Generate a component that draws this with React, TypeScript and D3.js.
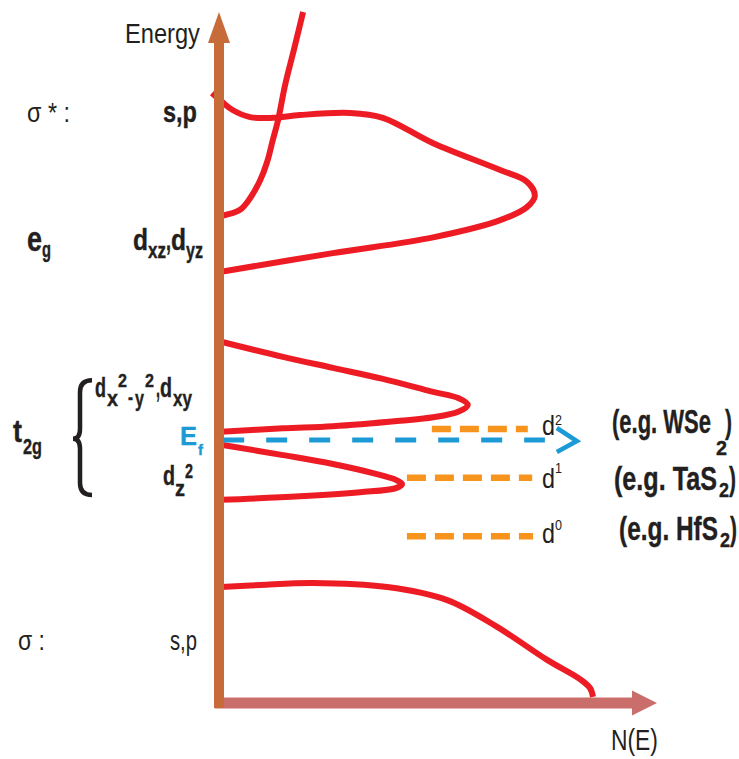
import React, { useLayoutEffect, useRef } from 'react';
import * as d3 from 'd3';

const W = 739;
const H = 759;
const INK = '#231F20';
const RED = '#ED1C24';
const BLUE = '#1B9AD6';
const ORANGE = '#F7941D';

// density of states, points are [N(E), E] in arbitrary units (0..100)
const sigmaBand = [[0.5, 16.3], [9.4, 16.6], [21.5, 16.9], [38.4, 16.3], [52.1, 14.4], [63.5, 10.5], [74.9, 5.7], [82.4, 2.9], [84.7, 1.6], [85.4, 0.3]];
const dz2Band = [[0.5, 37.0], [14.6, 35.5], [26.0, 34.2], [35.6, 32.8], [40.4, 31.9], [41.8, 31.3], [40.4, 30.7], [32.2, 30.1], [18.5, 29.5], [0.5, 29.0]];
const t2gBand = [[0.5, 52.0], [14.6, 49.8], [26.0, 48.2], [37.4, 46.6], [48.9, 44.7], [54.6, 43.8], [56.8, 42.8], [54.6, 41.8], [48.9, 41.0], [41.3, 40.5], [26.0, 39.7], [14.6, 39.4], [0.5, 38.9]];
const egBand = [[0.5, 62.2], [26.0, 64.9], [48.9, 67.2], [64.2, 69.7], [70.3, 71.6], [72.1, 73.2], [70.3, 75.3], [64.2, 77.0], [48.9, 80.9], [37.4, 84.6], [29.9, 85.3], [18.5, 85.0], [12.3, 84.6], [7.1, 84.7], [3.2, 85.7], [0.9, 86.8], [-1.6, 88.2]];
const sigmaStarBand = [[0.5, 70.3], [4.8, 71.2], [7.1, 72.9], [9.4, 75.5], [11.0, 78.2], [12.3, 81.4], [13.5, 84.3], [15.1, 89.4], [17.1, 94.5], [19.2, 100]];
const bands = [sigmaBand, dz2Band, t2gBand, egBand, sigmaStarBand];

// Fermi level
const fermiE = 37.7;
const fermiN = [0.5, 74.4];
const fermiArrowTip = 81.7;

// d-electron filling levels
const levelSup = ['2', '1', '0'];
const levelE = [39.3, 32.2, 23.7];
const levelStart = [48.6, 42.9, 42.9];
const levelEnd = [70.5, 71.5, 71.7];
const examples = ['WSe', 'TaS', 'HfS'];

// t2g brace extent (E)
const braceE = [46.4, 37.9, 29.7];

const x = d3.scaleLinear().domain([0, 100]).range([219, 657]);
const y = d3.scaleLinear().domain([0, 100]).range([699, 12]);
const line = d3.line<number[]>()
  .x(d => x(d[0]))
  .y(d => y(d[1]))
  .curve(d3.curveCatmullRom.alpha(0.5));

// text squeezed horizontally to width w (condensed look)
function T({ s, px, py, fs, b, w, c }: any) {
  const ref = useRef<SVGTextElement>(null);
  useLayoutEffect(() => {
    const el = ref.current;
    if (!el || !w) return;
    const len = el.getComputedTextLength();
    if (len > 0) {
      el.setAttribute('transform', `translate(${px},${py}) scale(${w / len},1) translate(${-px},${-py})`);
    }
  }, [s, px, py, fs, w]);
  return (
    <text ref={ref} x={px} y={py} fontSize={fs} fontWeight={b ? 700 : 400} fill={c || INK}
      stroke={b ? (c || INK) : 'none'} strokeWidth={b ? 0.4 : 0}>{s}</text>
  );
}

export default function App() {
  const x0 = x(0);
  const yb = y(0) + 4;
  const [bt, bm, bb] = braceE.map(e => y(e));
  const brace = `M92,${bt} C84,${bt} 80,${bt + 4} 80,${bt + 12} L80,${bm - 10} C80,${bm - 3} 77,${bm} 73,${bm}` +
    ` C77,${bm} 80,${bm + 3} 80,${bm + 10} L80,${bb - 12} C80,${bb - 4} 84,${bb} 92,${bb}`;
  const ef = y(fermiE);
  const tip = x(fermiArrowTip);

  // example label rows
  const exRows = [
    { py: 433, parts: [['(e.g. WSe', 612, 0, 99], [')', 725, 0, 7], ['2', 716, 22, 11]] },
    { py: 490, parts: [['(e.g.  TaS', 614, 0, 103], ['2', 719, 7, 10], [')', 729, 0, 7]] },
    { py: 540, parts: [['(e.g.  HfS', 619, 0, 99], ['2', 720, 7, 10], [')', 730, 0, 7]] },
  ];
  const supY = [425, 473, 530];
  const dY = [435, 488, 543];

  return (
    <svg width={W} height={H} style={{ position: 'absolute', left: 0, top: 0, background: '#fff' }}
      fontFamily="'Liberation Sans Narrow', 'Liberation Sans', Arial, sans-serif">
      {/* N(E) axis */}
      <line x1={x0 - 4} x2={632} y1={yb} y2={yb} stroke="#C96E6B" strokeWidth={11} />
      <path d={`M632,${yb - 12.5} L657,${yb} L632,${yb + 12.5} Z`} fill="#C96E6B" />

      {bands.map((b, i) => (
        <path key={i} d={line(b) || ''} fill="none" stroke={RED} strokeWidth={6} />
      ))}

      {/* Energy axis */}
      <line x1={x0} x2={x0} y1={yb + 5} y2={43} stroke="#C76C38" strokeWidth={10} />
      <path d={`M${x0 - 11},43 L${x0},12 L${x0 + 11},43 Z`} fill="#C76C38" />

      {/* filling levels */}
      {levelE.map((e, i) => (
        <line key={i} x1={x(levelStart[i])} x2={x(levelEnd[i])} y1={y(e)} y2={y(e)}
          stroke={ORANGE} strokeWidth={6.5} strokeDasharray="19 9" />
      ))}

      {/* Fermi level */}
      <line x1={x(fermiN[0]) + 2} x2={x(fermiN[1])} y1={ef} y2={ef} stroke={BLUE} strokeWidth={5} strokeDasharray="21 22" />
      <path d={`M${tip - 20},${ef - 12} L${tip},${ef + 1} L${tip - 20},${ef + 12}`} fill="none" stroke={BLUE} strokeWidth={4.5} />

      <path d={brace} fill="none" stroke={INK} strokeWidth={4.5} />

      <T s="Energy" px={125} py={43} fs={28} w={75} />
      <T s="N(E)" px={611} py={750} fs={30} w={47} />

      <T s="σ * :" px={27} py={122} fs={28} w={43} />
      <T s="s,p" px={163} py={122} fs={30} b w={34} />

      <T s="e" px={27} py={251} fs={36} b w={15} />
      <T s="g" px={42} py={257} fs={22} b w={9} />
      <T s="d" px={133} py={250} fs={30} b w={15} />
      <T s="xz" px={148} py={258} fs={22} b w={18} />
      <T s="," px={166} py={250} fs={30} b w={5} />
      <T s="d" px={171} py={250} fs={30} b w={15} />
      <T s="yz" px={186} py={258} fs={22} b w={17} />

      <T s="t" px={13} py={442} fs={31} b w={9} />
      <T s="2g" px={23} py={454} fs={22} b w={19} />

      <T s="d" px={95} py={397} fs={28} b w={11} />
      <T s="x" px={107} py={406} fs={22} b w={11} />
      <T s="2" px={118} py={387} fs={19} b w={9} />
      <T s="-" px={128} py={404} fs={22} b w={5} />
      <T s="y" px={135} py={406} fs={22} b w={9} />
      <T s="2" px={145} py={387} fs={19} b w={9} />
      <T s="," px={156} py={397} fs={28} b w={4} />
      <T s="d" px={160} py={397} fs={28} b w={12} />
      <T s="xy" px={173} py={406} fs={22} b w={19} />

      <T s="E" px={180} py={445} fs={25} b w={17} c={BLUE} />
      <T s="f" px={198} py={455} fs={15} b w={5} c={BLUE} />

      <T s="d" px={163} py={485} fs={28} b w={12} />
      <T s="z" px={175} py={496} fs={22} b w={10} />
      <T s="2" px={185} py={478} fs={21} b w={8} />

      <T s="σ :" px={18} py={650} fs={28} w={27} />
      <T s="s,p" px={170} py={650} fs={28} w={27} />

      {levelSup.map((s, i) => (
        <g key={i}>
          <T s="d" px={542} py={dY[i]} fs={28} w={13} />
          <T s={s} px={555} py={supY[i]} fs={15} w={7} />
        </g>
      ))}

      {exRows.map((r, i) => (
        <g key={examples[i]}>
          {r.parts.map((p: any, j) => (
            <T key={j} s={p[0]} px={p[1]} py={r.py + p[2]} fs={p[0] === '2' ? 21 : 33} b w={p[3]} />
          ))}
        </g>
      ))}
    </svg>
  );
}
